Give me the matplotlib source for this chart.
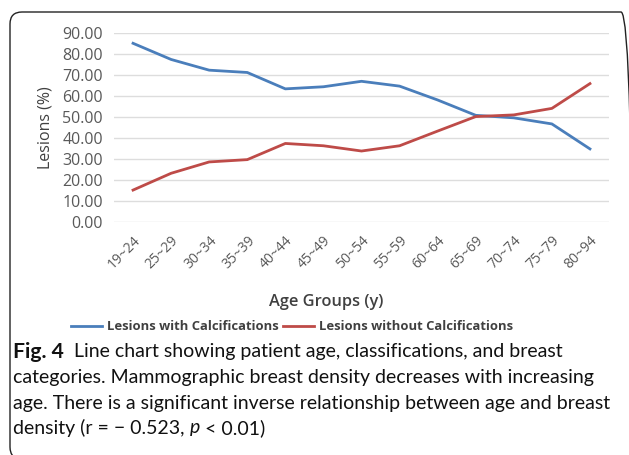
import matplotlib
matplotlib.use("Agg")
import matplotlib.pyplot as plt
from matplotlib.patches import FancyBboxPatch
from matplotlib.lines import Line2D

categories = ["19~24", "25~29", "30~34", "35~39", "40~44", "45~49", "50~54",
              "55~59", "60~64", "65~69", "70~74", "75~79", "80~94"]
with_calc = [85.1, 77.4, 72.3, 71.2, 63.4, 64.4, 67.0, 64.7, 58.1, 50.8, 49.6, 46.7, 34.8]
without_calc = [15.2, 23.2, 28.6, 29.7, 37.4, 36.3, 33.8, 36.3, 43.3, 50.2, 51.0, 54.1, 65.9]
yticks = [0, 10, 20, 30, 40, 50, 60, 70, 80, 90]

W, H = 629, 455
fig = plt.figure(figsize=(W / 100, H / 100), dpi=100)
renderer = fig.canvas.get_renderer()

def fx(px):
    return px / W

def fy(py):
    return 1 - py / H

# rounded border (in inches)
box = FancyBboxPatch((0.10, (H - 459) / 100), (633 - 10) / 100, (459 - 12) / 100,
                     boxstyle="round,pad=0,rounding_size=0.12",
                     transform=fig.dpi_scale_trans, fill=False, edgecolor="#222222",
                     linewidth=1.0, clip_on=False)
fig.patches.append(box)

ax = fig.add_axes([fx(114), fy(222), fx(609) - fx(114), fy(33) - fy(222)])
x = list(range(len(categories)))
blue = "#4A7EBB"
red = "#BE4B48"
ax.plot(x, with_calc, color=blue, lw=2.0, solid_joinstyle="round")
ax.plot(x, without_calc, color=red, lw=2.0, solid_joinstyle="round")
ax.set_xlim(-0.5, len(categories) - 0.5)
ax.set_ylim(0, 90)
ax.set_yticks(yticks)
ax.set_yticklabels([f"{v:.2f}" for v in yticks])
ax.set_xticks(x)
ax.set_xticklabels(categories, rotation=45, ha="right", rotation_mode="anchor")
ax.grid(axis="y", color="#DDDDDD", lw=1.0)
ax.set_axisbelow(True)
for s in ax.spines.values():
    s.set_visible(False)
ax.tick_params(length=0, colors="#595959")
ax.tick_params(axis="y", pad=8, labelsize=11.5)
ax.tick_params(axis="x", pad=8, labelsize=10)
for lab in ax.get_xticklabels() + ax.get_yticklabels():
    lab.set_fontfamily("Open Sans")

fig.text(fx(46), fy(128), "Lesions (%)", rotation=90, ha="center", va="center",
         fontsize=11.5, color="#404040", family="Open Sans")
fig.text(fx(326), fy(302), "Age Groups (y)", ha="center", va="center",
         fontsize=11.8, color="#404040", family="Open Sans", fontweight="semibold")

handles = [Line2D([], [], color=blue, lw=2), Line2D([], [], color=red, lw=2)]
fig.legend(handles, ["Lesions with Calcifications", "Lesions without Calcifications"],
           loc="center", bbox_to_anchor=(fx(292), fy(327)), ncol=2, frameon=False,
           prop={"family": "Open Sans", "weight": "bold", "size": 9.4},
           labelcolor="#404040", handlelength=2.4, handletextpad=0.4, columnspacing=0.3)

cap_font = "Lato"

def text_width(s, size, weight="normal", style="normal"):
    t = fig.text(0, 0, s, fontsize=size, family=cap_font, fontweight=weight, fontstyle=style)
    w = t.get_window_extent(renderer).width
    t.remove()
    return w

# fit caption size so the longest line spans like the reference (~597 px)
fs = 12.0
ref_line = "age. There is a significant inverse relationship between age and breast"
fs = fs * 597 / text_width(ref_line, fs)

def runs(px, py, parts):
    xpos = px
    for s, weight, style, scale in parts:
        fig.text(fx(xpos), fy(py), s, fontsize=fs * scale, va="center", ha="left",
                 family=cap_font, fontweight=weight, fontstyle=style, color="#111111")
        xpos += text_width(s, fs * scale, weight, style)

runs(13, 352, [("Fig. 4", "bold", "normal", 1.08),
               ("  Line chart showing patient age, classifications, and breast", "normal", "normal", 1.0)])
runs(13, 378, [("categories. Mammographic breast density decreases with increasing", "normal", "normal", 1.0)])
runs(13, 403, [(ref_line, "normal", "normal", 1.0)])
runs(13, 428, [("density (r = \u2212 0.523, ", "normal", "normal", 1.0), ("p", "normal", "italic", 1.0),
               (" < 0.01)", "normal", "normal", 1.0)])

fig.savefig("out.png", dpi=100)
